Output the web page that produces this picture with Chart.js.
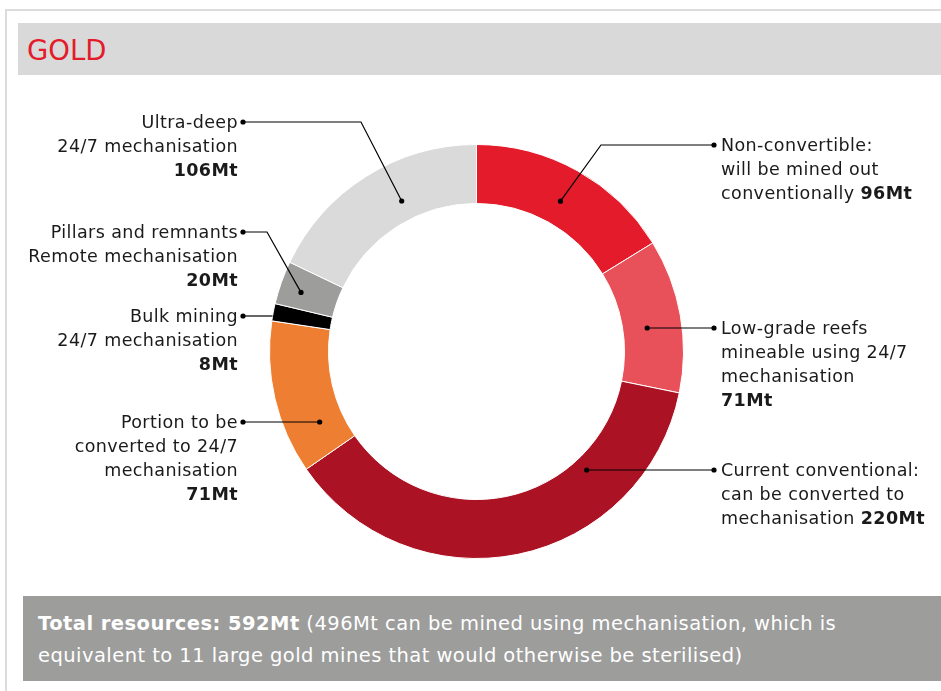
<!DOCTYPE html>
<html>
<head>
<meta charset="utf-8">
<script src="https://cdn.jsdelivr.net/npm/chart.js@4/dist/chart.umd.min.js"></script>
<style>
  body { margin: 0; background: #fff; font-family: "DejaVu Sans", sans-serif; }
  #wrap { position: relative; width: 941px; height: 691px; overflow: hidden; }
  #frame { position: absolute; left: 5px; top: 9px; width: 960px; height: 720px; border-left: 2px solid #dcdcdc; border-top: 2px solid #dcdcdc; }
  #head { position: absolute; left: 18px; top: 23px; width: 940px; height: 52px; background: #d9d9d9; }
  #head span { position: absolute; left: 9px; top: 11px; font-size: 27.5px; color: #e31b2a; }
  #foot { position: absolute; left: 23px; top: 596px; width: 940px; height: 85px; background: #9d9d9c; color: #fff; font-size: 19.5px; letter-spacing: 0.45px; line-height: 32px; }
  #foot div { position: absolute; left: 15px; top: 12px; white-space: nowrap; }
  canvas { position: absolute; left: 0; top: 0; }
  .lbl { position: absolute; font-size: 17.5px; line-height: 24px; letter-spacing: 0.4px; color: #1a1a1a; white-space: nowrap; }
  .lbl.left { text-align: right; }
  .lbl b { font-weight: bold; }
</style>
</head>
<body>
<div id="wrap">
  <div id="frame"></div>
  <div id="head"><span>GOLD</span></div>
  <canvas id="myChart" width="941" height="691"></canvas>
  <div id="foot"><div><b>Total resources: 592Mt</b> (496Mt can be mined using mechanisation, which is<br>equivalent to 11 large gold mines that would otherwise be sterilised)</div></div>
</div>
<script>
// data
const categories = [
  "Non-convertible: will be mined out conventionally",
  "Low-grade reefs mineable using 24/7 mechanisation",
  "Current conventional: can be converted to mechanisation",
  "Portion to be converted to 24/7 mechanisation",
  "Bulk mining 24/7 mechanisation",
  "Pillars and remnants Remote mechanisation",
  "Ultra-deep 24/7 mechanisation"
];
const tonnes = [96, 71, 220, 71, 8, 20, 106];
const colours = ["#e31b2a", "#e9515a", "#ab1223", "#ee7f32", "#000000", "#9d9d9c", "#dadada"];

// label text lines (last line holds the bold figure)
const labelLines = [
  ["Non-convertible:", "will be mined out", "conventionally <b>96Mt</b>"],
  ["Low-grade reefs", "mineable using 24/7", "mechanisation", "<b>71Mt</b>"],
  ["Current conventional:", "can be converted to", "mechanisation <b>220Mt</b>"],
  ["Portion to be", "converted to 24/7", "mechanisation", "<b>71Mt</b>"],
  ["Bulk mining", "24/7 mechanisation", "<b>8Mt</b>"],
  ["Pillars and remnants", "Remote mechanisation", "<b>20Mt</b>"],
  ["Ultra-deep", "24/7 mechanisation", "<b>106Mt</b>"]
];

// where each callout sits: side, first line centre y, elbow x, and anchor inside the arc
// t = fraction along the arc's angle, s = fraction from inner to outer radius
const callouts = [
  { side: "right", y: 145, elbow: 601, t: 0.50, s: 0.41 },
  { side: "right", y: 328, elbow: null, t: 0.555, s: 0.41 },
  { side: "right", y: 470, elbow: null, t: 0.266, s: 0.237 },
  { side: "left", y: 422, elbow: null, t: 0.238, s: 0.41, dot: true },
  { side: "left", y: 316, elbow: null, t: 0.245, s: 1.0, dot: false },
  { side: "left", y: 232, elbow: 267, t: 0.43, s: 0.63 },
  { side: "left", y: 122, elbow: 361, t: 0.59, s: 0.34 }
];

const wrap = document.getElementById("wrap");
labelLines.forEach((lines, i) => {
  const c = callouts[i];
  const div = document.createElement("div");
  div.className = "lbl " + c.side;
  div.innerHTML = lines.join("<br>");
  div.style.top = (c.y - 12) + "px";
  if (c.side === "left") {
    div.style.right = (941 - 238) + "px";
  } else {
    div.style.left = "721px";
  }
  wrap.appendChild(div);
});

const leaderLines = {
  id: "leaderLines",
  afterDatasetsDraw(chart) {
    const ctx = chart.ctx;
    const meta = chart.getDatasetMeta(0);
    meta.data.forEach((arc, i) => {
      const c = callouts[i];
      const p = arc.getProps(["x", "y", "startAngle", "endAngle", "innerRadius", "outerRadius"], true);
      const a = p.startAngle + c.t * (p.endAngle - p.startAngle);
      const r = p.innerRadius + c.s * (p.outerRadius - p.innerRadius);
      const ax = p.x + r * Math.cos(a);
      const ay = p.y + r * Math.sin(a);
      const lx = c.side === "left" ? 243 : 714;

      ctx.save();
      ctx.strokeStyle = "#000";
      ctx.lineWidth = 1.2;
      ctx.beginPath();
      ctx.moveTo(lx, c.y);
      if (c.elbow !== null) ctx.lineTo(c.elbow, c.y);
      ctx.lineTo(ax, c.elbow !== null ? ay : c.y);
      ctx.stroke();

      ctx.fillStyle = "#000";
      ctx.beginPath();
      ctx.arc(lx, c.y, 2.6, 0, Math.PI * 2);
      ctx.fill();
      if (c.dot !== false) {
        ctx.beginPath();
        ctx.arc(ax, c.elbow !== null ? ay : c.y, 2.6, 0, Math.PI * 2);
        ctx.fill();
      }
      ctx.restore();
    });
  }
};

const ctx = document.getElementById("myChart");
new Chart(ctx, {
  type: "doughnut",
  data: {
    labels: categories,
    datasets: [{
      data: tonnes,
      backgroundColor: colours,
      borderColor: "#ffffff",
      borderWidth: 1,
      hoverOffset: 0
    }]
  },
  options: {
    responsive: false,
    animation: false,
    cutout: "71.5%",
    layout: { padding: { left: 269, right: 257, top: 144, bottom: 132 } },
    plugins: {
      legend: { display: false },
      tooltip: { enabled: false }
    },
    events: []
  },
  plugins: [leaderLines]
});
</script>
</body>
</html>
